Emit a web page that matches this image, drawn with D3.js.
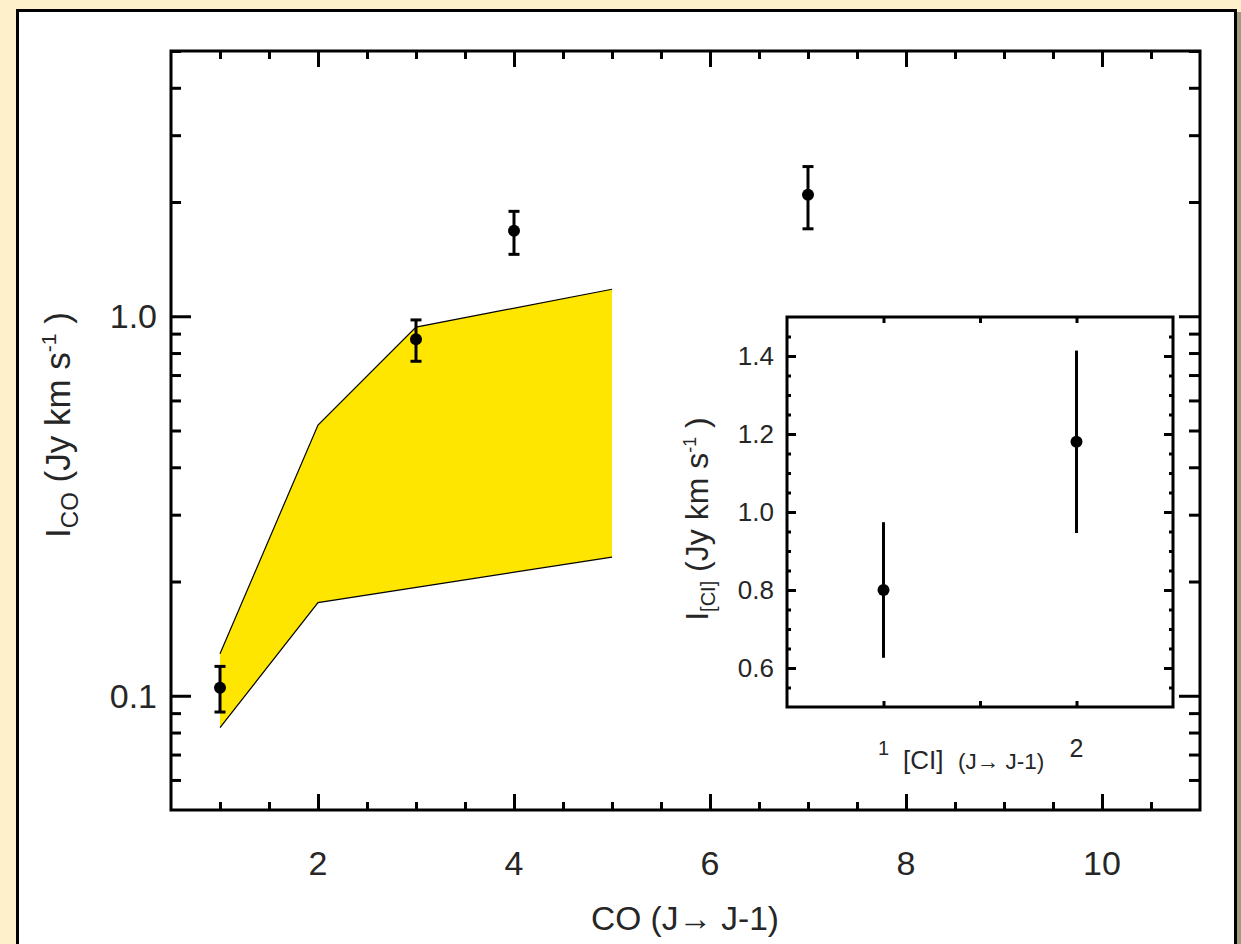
<!DOCTYPE html>
<html>
<head>
<meta charset="utf-8">
<script src="https://cdn.jsdelivr.net/npm/d3@7"></script>
<style>
  html, body { margin: 0; padding: 0; background: #fdf0cb; }
  svg { display: block; }
  text { font-family: "Liberation Sans", Arial, sans-serif; fill: #262626; }
</style>
</head>
<body>
<script>
// CO ladder points (J -> J-1), flux with error bounds
var coJ = [1, 3, 4, 7];
var coFlux = [0.105, 0.87, 1.68, 2.09];
var coHi = [0.1195, 0.978, 1.89, 2.48];
var coLo = [0.0906, 0.761, 1.456, 1.70];

// model band (yellow)
var bandUpJ = [1, 2, 3, 5];
var bandUp = [0.129, 0.517, 0.936, 1.178];
var bandLoJ = [1, 2, 5];
var bandLo = [0.0824, 0.176, 0.232];

// [CI] inset points
var ciJ = [1, 2];
var ciFlux = [0.80, 1.18];
var ciHi = [0.97, 1.41];
var ciLo = [0.63, 0.95];

var xMajor = [2, 4, 6, 8, 10];
var xMinor = [1, 1.5, 2.5, 3, 3.5, 4.5, 5, 5.5, 6.5, 7, 7.5, 8.5, 9, 9.5, 10.5];
var yMajor = [0.1, 1];
var yMinor = [0.06, 0.07, 0.08, 0.09, 0.2, 0.3, 0.4, 0.5, 0.6, 0.7, 0.8, 0.9, 2, 3, 4, 5];
var ciYMajor = [0.6, 0.8, 1.0, 1.2, 1.4];
var ciYMinor = [0.55, 0.65, 0.7, 0.75, 0.85, 0.9, 0.95, 1.05, 1.1, 1.15, 1.25, 1.3, 1.35, 1.45];
var ciXTicks = [1, 1.5, 2];

var W = 1241, H = 944;
var svg = d3.select("body").append("svg")
    .attr("width", W)
    .attr("height", H);

// panel
svg.append("rect").attr("x", 1237).attr("y", 12).attr("width", 4).attr("height", H)
    .attr("fill", "#a29b80");
svg.append("rect").attr("x", 17.5).attr("y", 10.5).attr("width", 1218).attr("height", H + 10)
    .attr("fill", "#fff").attr("stroke", "#000").attr("stroke-width", 3);

var mL = 171, mR = 1200, mT = 51, mB = 810;
var x = d3.scaleLinear().domain([0.5, 11]).range([mL, mR]);
var y = d3.scaleLog().domain([0.05, 5]).range([mB, mT]);

var g = svg.append("g");

// yellow band
var upPts = bandUpJ.map(function(d, i) { return [x(d), y(bandUp[i])]; });
var loPts = bandLoJ.map(function(d, i) { return [x(d), y(bandLo[i])]; });
g.append("path")
    .attr("d", "M" + upPts.concat(loPts.slice().reverse()).join("L") + "Z")
    .attr("fill", "#ffe600");
var line = d3.line();
g.append("path").attr("d", line(upPts)).attr("fill", "none").attr("stroke", "#000").attr("stroke-width", 1.2);
g.append("path").attr("d", line(loPts)).attr("fill", "none").attr("stroke", "#000").attr("stroke-width", 1.2);

// ticks via axes (inward)
function ticks(axisFn, scale, vals, len, tr) {
  var a = g.append("g").attr("transform", tr)
    .call(axisFn(scale).tickValues(vals).tickSize(len).tickFormat(""));
  a.select(".domain").remove();
  a.selectAll("line").attr("stroke", "#000").attr("stroke-width", 3);
}
ticks(d3.axisBottom, x, xMajor, -16, "translate(0," + mB + ")");
ticks(d3.axisBottom, x, xMinor, -8, "translate(0," + mB + ")");
ticks(d3.axisTop, x, xMajor, -16, "translate(0," + mT + ")");
ticks(d3.axisTop, x, xMinor, -8, "translate(0," + mT + ")");
ticks(d3.axisLeft, y, yMajor, -20, "translate(" + mL + ",0)");
ticks(d3.axisLeft, y, yMinor, -10, "translate(" + mL + ",0)");
ticks(d3.axisRight, y, yMajor, -21, "translate(" + mR + ",0)");
ticks(d3.axisRight, y, yMinor, -11, "translate(" + mR + ",0)");

g.append("rect").attr("x", mL).attr("y", mT).attr("width", mR - mL).attr("height", mB - mT)
    .attr("fill", "none").attr("stroke", "#000").attr("stroke-width", 3);

// tick labels
g.selectAll(".xl").data(xMajor).enter().append("text")
    .attr("x", function(d) { return x(d); }).attr("y", 875)
    .attr("text-anchor", "middle").style("font-size", "34px")
    .text(function(d) { return d; });
g.selectAll(".yl").data(yMajor).enter().append("text")
    .attr("x", 157).attr("y", function(d) { return y(d) + 12; })
    .attr("text-anchor", "end").style("font-size", "34px")
    .text(function(d) { return d3.format(".1f")(d); });

// axis titles
g.append("text").attr("x", 685).attr("y", 930).attr("text-anchor", "middle")
    .style("font-size", "33.5px").text("CO (J\u2192 J-1)");

var yt = g.append("text").attr("transform", "translate(70,425) rotate(-90)")
    .attr("text-anchor", "middle").style("font-size", "35px");
yt.append("tspan").text("I");
yt.append("tspan").attr("dy", 8).style("font-size", "24px").text("CO");
yt.append("tspan").attr("dy", -8).text(" (Jy km s");
yt.append("tspan").attr("dy", -14).style("font-size", "21px").text("-1");
yt.append("tspan").attr("dy", 14).text(" )");

// CO points
var pts = g.selectAll(".co").data(coJ).enter().append("g");
pts.append("line")
    .attr("x1", function(d) { return x(d); }).attr("x2", function(d) { return x(d); })
    .attr("y1", function(d, i) { return y(coHi[i]); }).attr("y2", function(d, i) { return y(coLo[i]); })
    .attr("stroke", "#000").attr("stroke-width", 3);
[coHi, coLo].forEach(function(arr) {
  pts.append("line")
    .attr("x1", function(d) { return x(d) - 5.5; }).attr("x2", function(d) { return x(d) + 5.5; })
    .attr("y1", function(d, i) { return y(arr[i]); }).attr("y2", function(d, i) { return y(arr[i]); })
    .attr("stroke", "#000").attr("stroke-width", 3);
});
pts.append("circle")
    .attr("cx", function(d) { return x(d); }).attr("cy", function(d, i) { return y(coFlux[i]); })
    .attr("r", 6).attr("fill", "#000");

// inset
var iL = 787, iR = 1173, iT = 317, iB = 707;
var ix = d3.scaleLinear().domain([0.5, 2.5]).range([iL, iR]);
var iy = d3.scaleLinear().domain([0.5, 1.5]).range([iB, iT]);

g.append("rect").attr("x", iL).attr("y", iT).attr("width", iR - iL).attr("height", iB - iT)
    .attr("fill", "#fff");
ticks(d3.axisLeft, iy, ciYMajor, -9, "translate(" + iL + ",0)");
ticks(d3.axisLeft, iy, ciYMinor, -4, "translate(" + iL + ",0)");
ticks(d3.axisRight, iy, ciYMajor, -9, "translate(" + iR + ",0)");
ticks(d3.axisRight, iy, ciYMinor, -4, "translate(" + iR + ",0)");
ticks(d3.axisBottom, ix, ciXTicks, -6, "translate(0," + iB + ")");
ticks(d3.axisTop, ix, ciXTicks, -6, "translate(0," + iT + ")");
g.append("rect").attr("x", iL).attr("y", iT).attr("width", iR - iL).attr("height", iB - iT)
    .attr("fill", "none").attr("stroke", "#000").attr("stroke-width", 3);

g.selectAll(".iyl").data(ciYMajor).enter().append("text")
    .attr("x", 774).attr("y", function(d) { return iy(d) + 9; })
    .attr("text-anchor", "end").style("font-size", "26px")
    .text(function(d) { return d3.format(".1f")(d); });
g.append("text").attr("x", ix(1)).attr("y", 755).attr("text-anchor", "middle")
    .style("font-size", "20px").text("1");
g.append("text").attr("x", ix(2)).attr("y", 757).attr("text-anchor", "middle")
    .style("font-size", "25px").text("2");

g.append("text").attr("x", 903).attr("y", 769).style("font-size", "26px").text("[CI]");
g.append("text").attr("x", 958).attr("y", 769).style("font-size", "22.5px").text("(J\u2192 J-1)");

var iyt = g.append("text").attr("transform", "translate(708,519) rotate(-90)")
    .attr("text-anchor", "middle").style("font-size", "32px");
iyt.append("tspan").text("I");
iyt.append("tspan").attr("dy", 7).style("font-size", "20px").text("[CI]");
iyt.append("tspan").attr("dy", -7).text(" (Jy km s");
iyt.append("tspan").attr("dy", -12).style("font-size", "18px").text("-1");
iyt.append("tspan").attr("dy", 12).text(" )");

var cpts = g.selectAll(".ci").data(ciJ).enter().append("g");
cpts.append("line")
    .attr("x1", function(d) { return ix(d); }).attr("x2", function(d) { return ix(d); })
    .attr("y1", function(d, i) { return iy(ciHi[i]); }).attr("y2", function(d, i) { return iy(ciLo[i]); })
    .attr("stroke", "#000").attr("stroke-width", 3);
[ciHi, ciLo].forEach(function(arr) {
  cpts.append("line")
    .attr("x1", function(d) { return ix(d) - 1.5; }).attr("x2", function(d) { return ix(d) + 1.5; })
    .attr("y1", function(d, i) { return iy(arr[i]); }).attr("y2", function(d, i) { return iy(arr[i]); })
    .attr("stroke", "#000").attr("stroke-width", 3);
});
cpts.append("circle")
    .attr("cx", function(d) { return ix(d); }).attr("cy", function(d, i) { return iy(ciFlux[i]); })
    .attr("r", 6).attr("fill", "#000");
</script>
</body>
</html>
